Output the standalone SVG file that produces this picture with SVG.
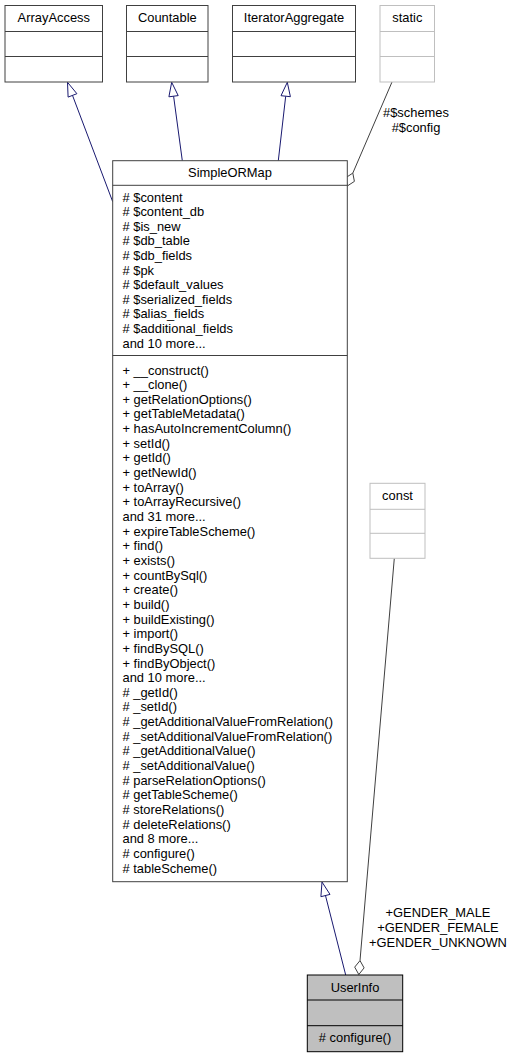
<svg xmlns="http://www.w3.org/2000/svg" width="515" height="1057" viewBox="0 0 515 1057">
<style>
text{font-family:"Liberation Sans",Arial,Helvetica,sans-serif;font-size:12.9px;fill:#000}
.box{fill:#fff;stroke:#404040;stroke-width:1}
.ext{fill:#fff;stroke:#bfbfbf;stroke-width:1}
.cur{fill:#bfbfbf;stroke:#000;stroke-width:1}
.dl{stroke:#404040;stroke-width:1}
.dle{stroke:#bfbfbf;stroke-width:1}
.c{text-anchor:middle}
.inh{fill:none;stroke:#191970;stroke-width:1}
.inhh{fill:#fff;stroke:#191970;stroke-width:1}
.agg{fill:none;stroke:#404040;stroke-width:1}
.aggh{fill:#fff;stroke:#404040;stroke-width:1}
</style>
<rect width="515" height="1057" fill="#fff"/>
<g id="connectors">
<line class="inh" x1="72.5" y1="95.4" x2="112.7" y2="201.7"/>
<polygon class="inhh" points="67.5,82.3 76.9,93.7 68.1,97.1"/>
<line class="inh" x1="173.6" y1="96.2" x2="182.3" y2="160.7"/>
<polygon class="inhh" points="171.7,82.3 178.2,95.6 168.9,96.8"/>
<line class="inh" x1="285.7" y1="96.2" x2="278.3" y2="160.7"/>
<polygon class="inhh" points="287.3,82.3 290.4,96.7 281,95.7"/>
<line class="agg" x1="352.8" y1="173.1" x2="392" y2="82"/>
<polygon class="aggh" points="347.3,186 345.8,177.7 352.8,173.1 354.4,181.4"/>
<text class="c" x="416" y="117">#$schemes</text>
<text class="c" x="416" y="131.7">#$config</text>
<line class="inh" x1="325.5" y1="895.6" x2="345.7" y2="975"/>
<polygon class="inhh" points="322,882 330,894.4 320.9,896.7"/>
<line class="agg" x1="360" y1="960.6" x2="394.3" y2="558.3"/>
<polygon class="aggh" points="358.8,974.5 354.7,967.1 360,960.6 364.1,967.9"/>
<text class="c" x="438" y="916.7">+GENDER_MALE</text>
<text class="c" x="438" y="931.7">+GENDER_FEMALE</text>
<text class="c" x="438" y="946.7">+GENDER_UNKNOWN</text>
</g>
<g id="ArrayAccess">
<rect class="box" x="5" y="5.5" width="97.5" height="76.5"/>
<line class="dl" x1="5" y1="31.5" x2="102.5" y2="31.5"/>
<line class="dl" x1="5" y1="56.5" x2="102.5" y2="56.5"/>
<text class="c" x="53.8" y="22">ArrayAccess</text>
</g>
<g id="Countable">
<rect class="box" x="126.5" y="5.5" width="81.5" height="76.5"/>
<line class="dl" x1="126.5" y1="31.5" x2="208" y2="31.5"/>
<line class="dl" x1="126.5" y1="56.5" x2="208" y2="56.5"/>
<text class="c" x="167.3" y="22">Countable</text>
</g>
<g id="IteratorAggregate">
<rect class="box" x="232.5" y="5.5" width="123" height="76.5"/>
<line class="dl" x1="232.5" y1="31.5" x2="355.5" y2="31.5"/>
<line class="dl" x1="232.5" y1="56.5" x2="355.5" y2="56.5"/>
<text class="c" x="294" y="22">IteratorAggregate</text>
</g>
<g id="static">
<rect class="ext" x="380" y="5.5" width="54.5" height="76.5"/>
<line class="dle" x1="380" y1="31.5" x2="434.5" y2="31.5"/>
<line class="dle" x1="380" y1="56.5" x2="434.5" y2="56.5"/>
<text class="c" x="407.3" y="22">static</text>
</g>
<g id="SimpleORMap">
<rect class="box" x="112.7" y="160.7" width="234.6" height="721"/>
<line class="dl" x1="112.7" y1="185.3" x2="347.3" y2="185.3"/>
<line class="dl" x1="112.7" y1="355.5" x2="347.3" y2="355.5"/>
<text class="c" x="230" y="177.3">SimpleORMap</text>
<text x="122.5" y="201.5"># $content</text>
<text x="122.5" y="216.1"># $content_db</text>
<text x="122.5" y="230.7"># $is_new</text>
<text x="122.5" y="245.3"># $db_table</text>
<text x="122.5" y="259.9"># $db_fields</text>
<text x="122.5" y="274.5"># $pk</text>
<text x="122.5" y="289.1"># $default_values</text>
<text x="122.5" y="303.7"># $serialized_fields</text>
<text x="122.5" y="318.3"># $alias_fields</text>
<text x="122.5" y="332.9"># $additional_fields</text>
<text x="122.5" y="347.5">and 10 more...</text>
<text x="122.5" y="374.5">+ __construct()</text>
<text x="122.5" y="389.15">+ __clone()</text>
<text x="122.5" y="403.8">+ getRelationOptions()</text>
<text x="122.5" y="418.45">+ getTableMetadata()</text>
<text x="122.5" y="433.1">+ hasAutoIncrementColumn()</text>
<text x="122.5" y="447.75">+ setId()</text>
<text x="122.5" y="462.4">+ getId()</text>
<text x="122.5" y="477.05">+ getNewId()</text>
<text x="122.5" y="491.7">+ toArray()</text>
<text x="122.5" y="506.35">+ toArrayRecursive()</text>
<text x="122.5" y="521">and 31 more...</text>
<text x="122.5" y="535.65">+ expireTableScheme()</text>
<text x="122.5" y="550.3">+ find()</text>
<text x="122.5" y="564.95">+ exists()</text>
<text x="122.5" y="579.6">+ countBySql()</text>
<text x="122.5" y="594.25">+ create()</text>
<text x="122.5" y="608.9">+ build()</text>
<text x="122.5" y="623.55">+ buildExisting()</text>
<text x="122.5" y="638.2">+ import()</text>
<text x="122.5" y="652.85">+ findBySQL()</text>
<text x="122.5" y="667.5">+ findByObject()</text>
<text x="122.5" y="682.15">and 10 more...</text>
<text x="122.5" y="696.8"># _getId()</text>
<text x="122.5" y="711.45"># _setId()</text>
<text x="122.5" y="726.1"># _getAdditionalValueFromRelation()</text>
<text x="122.5" y="740.75"># _setAdditionalValueFromRelation()</text>
<text x="122.5" y="755.4"># _getAdditionalValue()</text>
<text x="122.5" y="770.05"># _setAdditionalValue()</text>
<text x="122.5" y="784.7"># parseRelationOptions()</text>
<text x="122.5" y="799.35"># getTableScheme()</text>
<text x="122.5" y="814"># storeRelations()</text>
<text x="122.5" y="828.65"># deleteRelations()</text>
<text x="122.5" y="843.3">and 8 more...</text>
<text x="122.5" y="857.95"># configure()</text>
<text x="122.5" y="872.6"># tableScheme()</text>
</g>
<g id="const">
<rect class="ext" x="370" y="483.3" width="55" height="75"/>
<line class="dle" x1="370" y1="509.3" x2="425" y2="509.3"/>
<line class="dle" x1="370" y1="533.3" x2="425" y2="533.3"/>
<text class="c" x="397.5" y="499.5">const</text>
</g>
<g id="UserInfo">
<rect class="cur" x="307.3" y="975" width="95.4" height="76.7"/>
<line x1="307.3" y1="1000" x2="402.7" y2="1000" stroke="#000"/>
<line x1="307.3" y1="1025.7" x2="402.7" y2="1025.7" stroke="#000"/>
<text class="c" x="355" y="991.8">UserInfo</text>
<text class="c" x="355" y="1042"># configure()</text>
</g>
</svg>
